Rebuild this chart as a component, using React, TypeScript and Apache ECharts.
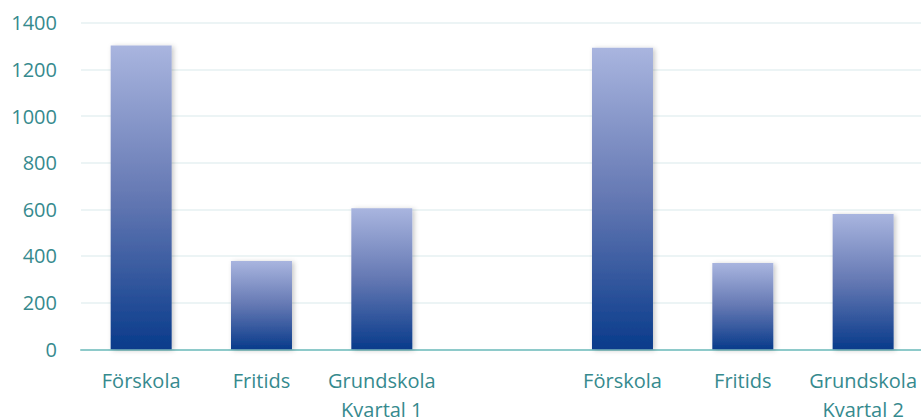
import React, { useEffect, useRef } from "react";
import * as echarts from "echarts";

const categories = ["Förskola", "Fritids", "Grundskola\nKvartal 1", "", "Förskola", "Fritids", "Grundskola\nKvartal 2"];
const values: (number | null)[] = [1302, 379, 605, null, 1293, 370, 580];
const yTicks = { min: 0, max: 1400, interval: 200 };

const TEXT = "#368a8e";

export default function App() {
  const ref = useRef<HTMLDivElement>(null);
  useEffect(() => {
    if (!ref.current) return;
    const chart = echarts.init(ref.current, null, { renderer: "svg" });
    const grad = new echarts.graphic.LinearGradient(0, 0, 0, 1, [
      { offset: 0, color: "#a9b5df" },
      { offset: 0.5, color: "#6478b3" },
      { offset: 1, color: "#093b8b" },
    ]);
    chart.setOption({
      animation: false,
      grid: { left: 81, top: 22.7, width: 842.3, bottom: 68.7, containLabel: false, outerBoundsMode: "none" },
      xAxis: {
        type: "category",
        data: categories,
        axisTick: { show: false },
        axisLine: { lineStyle: { color: "#8ecaca", width: 2 } },
        axisLabel: {
          color: TEXT,
          fontFamily: "Open Sans",
          fontSize: 20,
          lineHeight: 29,
          margin: 17,
          interval: 0,
          hideOverlap: false,
        },
      },
      yAxis: {
        type: "value",
        min: yTicks.min,
        max: yTicks.max,
        interval: yTicks.interval,
        axisLine: { show: false },
        axisTick: { show: false },
        splitLine: { lineStyle: { color: "#e6f1f2", width: 1.5 } },
        axisLabel: {
          color: TEXT,
          fontFamily: "Open Sans",
          fontSize: 20,
          margin: 24,
          formatter: (v: number) => String(v),
        },
      },
      series: [
        {
          type: "bar",
          data: values,
          barWidth: 61,
          itemStyle: {
            color: grad,
            shadowColor: "rgba(0,0,0,0.22)",
            shadowBlur: 5,
            shadowOffsetX: 2,
            shadowOffsetY: 1,
          },
        },
      ],
    });
    return () => chart.dispose();
  }, []);
  return (
    <div
      ref={ref}
      style={{ position: "fixed", left: 0, top: 0, width: 921, height: 418, background: "#fff" }}
    />
  );
}
